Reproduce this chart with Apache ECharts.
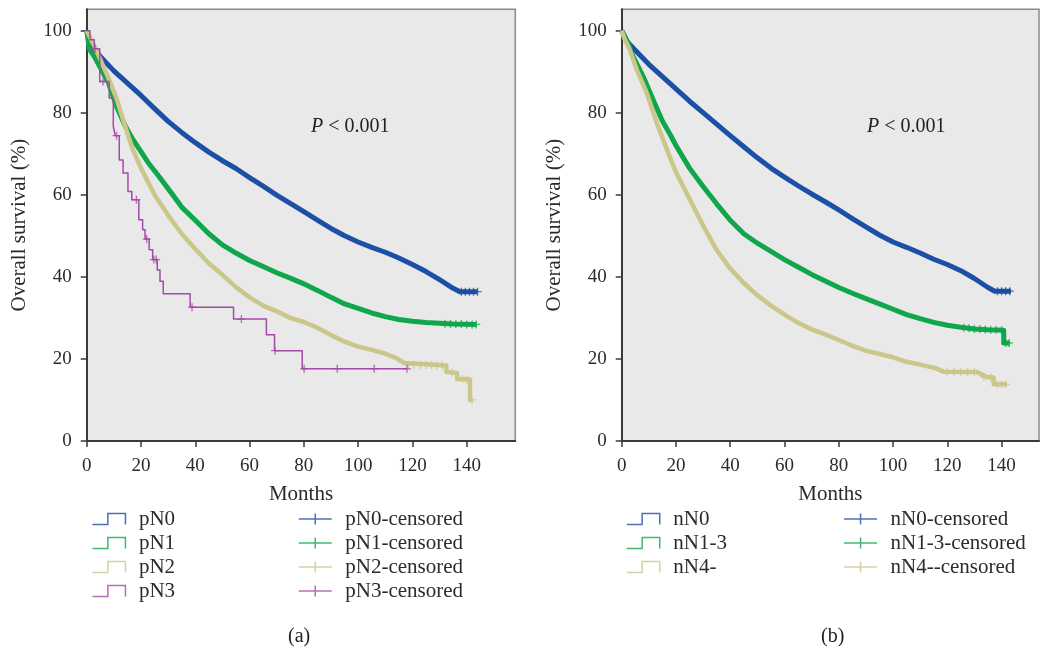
<!DOCTYPE html>
<html>
<head>
<meta charset="utf-8">
<script src="https://cdn.jsdelivr.net/npm/echarts@6/dist/echarts.min.js"></script>
<style>
  html, body { margin: 0; padding: 0; background: #fff; }
  #chart { width: 1042px; height: 652px; }
</style>
</head>
<body>
<div id="chart"></div>
<script>
// ---- data ----
const xTicks = [0, 20, 40, 60, 80, 100, 120, 140];
const yTicks = [0, 20, 40, 60, 80, 100];

// (a) pN stage
const pN0Months = [0, 1, 3, 5, 10, 15, 20, 25, 30, 35, 40, 45, 50, 55, 60, 65, 70, 75, 80, 85, 90, 95, 100, 105, 110, 115, 120, 125, 130, 135, 137.5, 144];
const pN0Surv = [100, 98, 95.5, 93.7, 90.2, 87.2, 84.2, 81, 77.9, 75.2, 72.7, 70.4, 68.3, 66.4, 64.2, 62.1, 59.9, 57.9, 55.9, 53.8, 51.8, 50, 48.5, 47.2, 46, 44.6, 43, 41.3, 39.3, 37.2, 36.4, 36.4];
const pN0CensMonths = [138, 139.5, 141, 142.5, 144];
const pN0CensSurv = [36.4, 36.4, 36.4, 36.4, 36.4];

const pN1Months = [0, 1, 3, 5, 8, 11, 14, 17, 20, 23, 26, 30, 35, 40, 45, 50, 55, 60, 65, 70, 75, 80, 85, 90, 95, 100, 105, 110, 115, 120, 125, 130, 135, 143.5];
const pN1Surv = [100, 95.5, 93.5, 91, 87.3, 81.5, 77, 73.5, 70.5, 67.5, 65, 61.5, 57, 53.8, 50.5, 47.8, 45.8, 44, 42.5, 41, 39.7, 38.3, 36.7, 35, 33.4, 32.3, 31.2, 30.3, 29.6, 29.2, 28.9, 28.7, 28.5, 28.4];
const pN1CensMonths = [132, 134, 136, 138, 140, 142, 143.5];
const pN1CensSurv = [28.6, 28.5, 28.5, 28.5, 28.4, 28.4, 28.4];

const pN2Months = [0, 3, 5, 8, 11, 14, 17, 20, 25, 30, 35, 40, 45, 50, 55, 60, 65, 70, 75, 80, 85, 90, 95, 100, 105, 110, 114, 117, 117, 132.5, 132.5, 136.5, 136.5, 141.2, 141.2, 142];
const pN2Surv = [100, 96, 93, 88.5, 83.5, 77, 71, 66.5, 60, 55, 50.5, 46.8, 43.3, 40.5, 37.5, 35, 33, 31.6, 30, 29, 27.6, 25.8, 24.2, 23, 22.2, 21.3, 20.2, 19, 18.6, 18.4, 16.8, 16.6, 15.1, 15, 10, 10];
const pN2CensMonths = [118.5, 120.5, 123, 125, 127, 129, 131, 134.5, 138.5, 140, 142];
const pN2CensSurv = [18.6, 18.6, 18.5, 18.5, 18.5, 18.4, 18.4, 16.7, 15.1, 15, 10];

const pN3Months = [0, 1.2, 2.8, 4.8, 8.3, 9.8, 10.5, 12, 13.4, 15.2, 16.6, 19.2, 20.6, 21.5, 23, 24.3, 26, 27, 28.2, 38.1, 54.1, 66.2, 69.2, 79.4, 118];
const pN3Surv = [100, 97.8, 95.6, 87.6, 83.6, 76.7, 74.4, 68.5, 65.3, 60.8, 58.8, 53.9, 51.5, 49.2, 46.6, 44.2, 41.7, 38.9, 35.9, 32.6, 29.7, 25.9, 22, 17.6, 17.6];
const pN3CensMonths = [3.1, 6, 11, 18.3, 22.1, 24.7, 25.6, 38.8, 57, 69.4, 80.1, 92.3, 105.9, 118];
const pN3CensSurv = [95.6, 87.6, 74.4, 58.8, 49.2, 44.2, 44.2, 32.6, 29.7, 22, 17.6, 17.6, 17.6, 17.6];

// (b) number of nodes
const nN0Months = [0, 2, 5, 10, 15, 20, 25, 30, 35, 40, 45, 50, 55, 60, 65, 70, 75, 80, 85, 90, 95, 100, 105, 110, 115, 120, 125, 130, 135, 137.5, 143.5];
const nN0Surv = [100, 97.3, 95.2, 91.8, 88.8, 85.8, 82.8, 80, 77.2, 74.4, 71.7, 69, 66.5, 64.3, 62.2, 60.2, 58.3, 56.3, 54.2, 52.2, 50.2, 48.5, 47.2, 45.8, 44.3, 43, 41.5, 39.6, 37.4, 36.5, 36.5];
const nN0CensMonths = [138.5, 140, 141.5, 143];
const nN0CensSurv = [36.5, 36.5, 36.5, 36.5];

const nN13Months = [0, 2, 4, 8, 12, 15, 18, 20, 25, 30, 35, 40, 45, 50, 55, 60, 65, 70, 75, 80, 85, 90, 95, 100, 105, 110, 115, 120, 125, 130, 135, 140.8, 140.8, 143];
const nN13Surv = [100, 97.5, 94, 88.7, 82.5, 78, 74.5, 72, 66.5, 62, 57.8, 53.8, 50.5, 48.2, 46.2, 44.2, 42.4, 40.6, 39, 37.4, 36, 34.7, 33.4, 32.1, 30.8, 29.8, 28.9, 28.2, 27.7, 27.3, 27.1, 27, 23.9, 23.9];
const nN13CensMonths = [126, 128, 130, 132, 134, 136, 138, 140, 141.6, 142.8];
const nN13CensSurv = [27.6, 27.5, 27.3, 27.3, 27.2, 27.1, 27.1, 27, 23.9, 23.9];

const nN4Months = [0, 1, 3, 5.6, 9.3, 13, 16.7, 20, 25, 30, 35, 40, 45, 50, 55, 60, 65, 70, 75, 80, 85, 90, 95, 100, 105, 110, 116, 118.5, 131, 134.6, 137.1, 137.1, 142];
const nN4Surv = [100, 98, 95.3, 90.4, 84.7, 77.4, 71, 65.5, 59, 52.5, 46.5, 42, 38.5, 35.5, 33, 30.8, 28.8, 27.2, 26, 24.6, 23.2, 22, 21.2, 20.4, 19.3, 18.6, 17.7, 16.9, 16.8, 15.6, 15.5, 13.8, 13.8];
const nN4CensMonths = [120, 122.5, 125, 127.5, 130, 133.5, 136, 138.5, 140, 141.5];
const nN4CensSurv = [16.9, 16.9, 16.8, 16.8, 16.8, 15.6, 15.5, 13.8, 13.8, 13.8];

// ---- styling ----
const FONT = "'Liberation Serif', 'DejaVu Serif', serif";
const BLUE = "#1c4fa6";
const GREEN = "#10a64b";
const KHAKI = "#cbc68a";
const PURPLE = "#a54aa8";
const STEP_ICON = "path://M0,10 L14,10 L14,0 L30,0 L30,10";
const CROSS_ICON = "path://M0,5 L30,5 M15,0 L15,10";
const PLUS = "path://M5,0 L5,10 M0,5 L10,5";

const zip = (xs, ys) => xs.map((x, i) => [x, ys[i]]);

function curve(name, months, surv, color, width, idx, step) {
  return {
    name: name,
    type: "line",
    xAxisIndex: idx,
    yAxisIndex: idx,
    data: zip(months, surv),
    step: step ? "end" : false,
    showSymbol: false,
    symbol: "none",
    color: color,
    lineStyle: { color: color, width: width, join: "round" },
    z: 3,
  };
}

function censored(name, months, surv, color, idx) {
  return {
    name: name,
    type: "scatter",
    xAxisIndex: idx,
    yAxisIndex: idx,
    data: zip(months, surv),
    symbol: PLUS,
    symbolSize: 8,
    color: color,
    itemStyle: { color: "transparent", borderColor: color, borderWidth: 1.3 },
    z: 4,
  };
}

function xAxis(idx, max) {
  return {
    type: "value",
    gridIndex: idx,
    min: 0,
    max: max,
    interval: 20,
    name: "Months",
    nameLocation: "middle",
    nameGap: 43,
    nameTextStyle: { fontFamily: FONT, fontSize: 21, color: "#2b2b2b" },
    axisLine: { show: true, onZero: false, lineStyle: { color: "#3a3a3a", width: 2 } },
    axisTick: { show: true, length: 6, customValues: xTicks, lineStyle: { color: "#3a3a3a", width: 1.5 } },
    axisLabel: { customValues: xTicks, fontFamily: FONT, fontSize: 19, color: "#2b2b2b", margin: 16 },
    splitLine: { show: false },
  };
}

function yAxis(idx) {
  return {
    type: "value",
    gridIndex: idx,
    min: 0,
    max: 105.2,
    interval: 20,
    name: "Overall survival (%)",
    nameLocation: "middle",
    nameRotate: 90,
    nameGap: 57,
    nameTextStyle: { fontFamily: FONT, fontSize: 21, color: "#2b2b2b" },
    axisLine: { show: true, onZero: false, lineStyle: { color: "#3a3a3a", width: 2 } },
    axisTick: { show: true, length: 6, customValues: yTicks, lineStyle: { color: "#3a3a3a", width: 1.5 } },
    axisLabel: { customValues: yTicks, fontFamily: FONT, fontSize: 19, color: "#2b2b2b", margin: 15 },
    splitLine: { show: false },
  };
}

function legendItem(name, icon, color) {
  return {
    name: name,
    icon: icon,
    itemStyle: { color: "transparent", borderColor: color, borderWidth: 1.5, opacity: 0.8 },
  };
}

function legend(left, items) {
  return {
    orient: "vertical",
    left: left,
    top: 503,
    itemWidth: 36,
    itemHeight: 11,
    itemGap: 2,
    selectedMode: false,
    textStyle: { fontFamily: FONT, fontSize: 21, color: "#2b2b2b", lineHeight: 22, padding: [0, 0, 0, 7] },
    data: items,
  };
}

const chart = echarts.init(document.getElementById("chart"), null, { renderer: "canvas" });

chart.setOption({
  animation: false,
  backgroundColor: "#ffffff",
  grid: [
    { left: 86.7, top: 9.3, width: 428.6, height: 431.7, show: true, backgroundColor: "#e9e9e9", borderColor: "#8a8a8a", borderWidth: 1.5 },
    { left: 621.7, top: 9.3, width: 417.3, height: 431.7, show: true, backgroundColor: "#e9e9e9", borderColor: "#8a8a8a", borderWidth: 1.5 },
  ],
  xAxis: [xAxis(0, 157.9), xAxis(1, 153.8)],
  yAxis: [yAxis(0), yAxis(1)],
  legend: [
    legend(86.7, [
      legendItem("pN0", STEP_ICON, BLUE),
      legendItem("pN1", STEP_ICON, GREEN),
      legendItem("pN2", STEP_ICON, KHAKI),
      legendItem("pN3", STEP_ICON, PURPLE),
    ]),
    legend(293, [
      legendItem("pN0-censored", CROSS_ICON, BLUE),
      legendItem("pN1-censored", CROSS_ICON, GREEN),
      legendItem("pN2-censored", CROSS_ICON, KHAKI),
      legendItem("pN3-censored", CROSS_ICON, PURPLE),
    ]),
    legend(621, [
      legendItem("nN0", STEP_ICON, BLUE),
      legendItem("nN1-3", STEP_ICON, GREEN),
      legendItem("nN4-", STEP_ICON, KHAKI),
    ]),
    legend(838.3, [
      legendItem("nN0-censored", CROSS_ICON, BLUE),
      legendItem("nN1-3-censored", CROSS_ICON, GREEN),
      legendItem("nN4--censored", CROSS_ICON, KHAKI),
    ]),
  ],
  graphic: [
    {
      type: "text", left: 311, top: 117,
      style: { text: "{i|P} < 0.001", font: "20px " + FONT, fill: "#222", rich: { i: { fontStyle: "italic", fontFamily: FONT, fontSize: 20 } } },
    },
    {
      type: "text", left: 867, top: 117,
      style: { text: "{i|P} < 0.001", font: "20px " + FONT, fill: "#222", rich: { i: { fontStyle: "italic", fontFamily: FONT, fontSize: 20 } } },
    },
    { type: "text", left: 288, top: 627, style: { text: "(a)", font: "20px " + FONT, fill: "#222" } },
    { type: "text", left: 821, top: 627, style: { text: "(b)", font: "20px " + FONT, fill: "#222" } },
  ],
  series: [
    curve("pN0", pN0Months, pN0Surv, BLUE, 5, 0, false),
    curve("pN1", pN1Months, pN1Surv, GREEN, 5, 0, false),
    curve("pN2", pN2Months, pN2Surv, KHAKI, 4.5, 0, false),
    curve("pN3", pN3Months, pN3Surv, PURPLE, 1.5, 0, true),
    censored("pN0-censored", pN0CensMonths, pN0CensSurv, BLUE, 0),
    censored("pN1-censored", pN1CensMonths, pN1CensSurv, GREEN, 0),
    censored("pN2-censored", pN2CensMonths, pN2CensSurv, KHAKI, 0),
    censored("pN3-censored", pN3CensMonths, pN3CensSurv, PURPLE, 0),

    curve("nN0", nN0Months, nN0Surv, BLUE, 5, 1, false),
    curve("nN1-3", nN13Months, nN13Surv, GREEN, 5, 1, false),
    curve("nN4-", nN4Months, nN4Surv, KHAKI, 4.5, 1, false),
    censored("nN0-censored", nN0CensMonths, nN0CensSurv, BLUE, 1),
    censored("nN1-3-censored", nN13CensMonths, nN13CensSurv, GREEN, 1),
    censored("nN4--censored", nN4CensMonths, nN4CensSurv, KHAKI, 1),
  ],
});
</script>
</body>
</html>
